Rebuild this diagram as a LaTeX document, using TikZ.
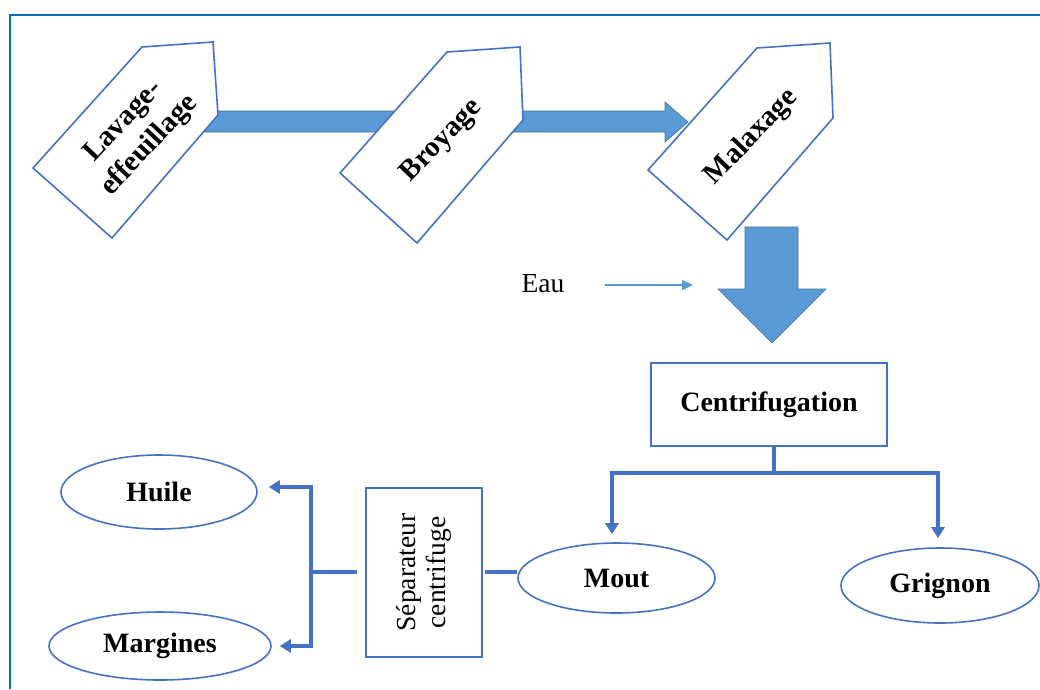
\documentclass[tikz,border=0pt]{standalone}
\usepackage{fontspec}
\setmainfont{Liberation Serif}
\usetikzlibrary{arrows.meta,shapes.geometric}
\definecolor{frame}{HTML}{0070C0}
\definecolor{outl}{HTML}{4472C4}
\definecolor{blockfill}{HTML}{5B9BD5}
\definecolor{blockedge}{HTML}{41719C}
\tikzset{
  penta/.style={draw=outl,line width=1.6pt,fill=white,line join=miter},
  ptext/.style={font=\bfseries\fontsize{29}{35}\selectfont,align=center,inner sep=0pt},
  block/.style={fill=blockfill,draw=blockedge,line width=0.6pt},
  box/.style={draw=outl,line width=1.6pt,inner sep=0pt},
  oval/.style={ellipse,draw=outl,line width=1.6pt,inner sep=0pt,font=\bfseries\fontsize{28}{32}\selectfont},
  conn/.style={draw=outl,line width=3.2pt},
  tip/.style={-{Triangle[width=13pt,length=11pt]}},
}
\begin{document}
\begin{tikzpicture}[x=1pt,y=-1pt]
\useasboundingbox (0,0) rectangle (1040,689);
% outer frame (only top and left edges fall inside the page)
\draw[frame,line width=2.6pt] (1040,15) -- (10,15) -- (10,689);

% thick flow arrow behind the three stages
\draw[block] (205,111) -- (665,111) -- (665,102) -- (688,122) -- (665,142) -- (665,132) -- (205,132) -- cycle;

% stage pentagons
\draw[penta] (142,47) -- (213,42) -- (218,115) -- (112,238) -- (33,168) -- cycle;
\node[ptext,rotate=47] (lav) at (137,134) {Lavage-\\effeuillage};
\draw[penta] (447,52) -- (520,47) -- (523,120) -- (417,243) -- (340,173) -- cycle;
\node[ptext,rotate=46] (bro) at (442,141) {Broyage};
\draw[penta] (757,48) -- (830,43) -- (833,118) -- (727,240) -- (648,170) -- cycle;
\node[ptext,rotate=46] (mal) at (752,137) {Malaxage};

% big downward arrow
\draw[block] (745,227) -- (798,227) -- (798,289) -- (826,289) -- (772,343) -- (718,289) -- (745,289) -- cycle;

% water input
\node[font=\fontsize{27.5}{32}\selectfont] (eau) at (543,284) {Eau};
\coordinate (eau1) at (605,285);
\coordinate (eau2) at (693,285);
\draw[blockfill,line width=2.2pt,-{Triangle[width=10pt,length=11pt]}] (eau1) -- (eau2);

% centrifugation and its outputs
\node[box,minimum width=236pt,minimum height=83pt,font=\bfseries\fontsize{28}{32}\selectfont] (cent) at (769,404.5) {Centrifugation};
\node[oval,minimum width=197pt,minimum height=70pt] (mout) at (616.5,578) {Mout};
\node[oval,minimum width=198pt,minimum height=75pt] (grig) at (940,585.5) {Grignon};
\draw[conn] ([xshift=5pt]cent.south) -- (774,473) coordinate (split);
\draw[conn,tip] (split) -| ([xshift=-4.5pt,yshift=8pt]mout.north);
\draw[conn,tip] (split) -| ([xshift=-2pt,yshift=9pt]grig.north);

% separator and its outputs
\node[box,minimum width=116pt,minimum height=169pt] (sep) at (424,572.5) {};
\node[rotate=90,align=center,font=\fontsize{27.5}{30}\selectfont] (septext) at (sep) {Séparateur\\centrifuge};
\node[oval,minimum width=196pt,minimum height=74pt] (huile) at (159,492) {Huile};
\node[oval,minimum width=222pt,minimum height=68pt] (marg) at (160,646) {Margines};
\draw[conn] ([xshift=2pt]sep.east |- 0,572) -- (mout.west |- 0,572);
\draw[conn] ([xshift=-8pt]sep.west |- 0,572) -- (311,572) coordinate (fork);
\draw[conn,tip] (fork) |- ([xshift=11pt,yshift=5pt]huile.east);
\draw[conn,tip] (fork) |- ([xshift=8pt]marg.east);
\end{tikzpicture}
\end{document}
